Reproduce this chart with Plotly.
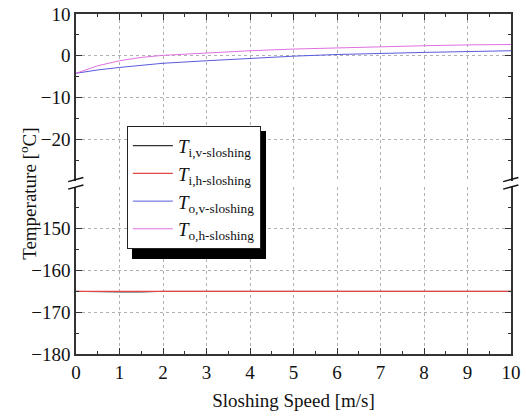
import plotly.graph_objects as go

# ---- data ----
speed = [0, 0.5, 1, 1.5, 2, 3, 4, 5, 6, 7, 8, 9, 10]
t_iv = [-165.0, -165.12, -165.12, -165.12, -165.0, -165.0, -165.0, -165.0, -165.0, -165.0, -165.0, -165.0, -165.0]
t_ih = [-165.0, -165.0, -165.0, -165.0, -165.0, -165.0, -165.0, -165.0, -165.0, -165.0, -165.0, -165.0, -165.0]
t_ov = [-4.2, -3.4, -2.8, -2.3, -1.8, -1.2, -0.6, -0.1, 0.3, 0.6, 0.8, 1.0, 1.2]
t_oh = [-4.2, -2.4, -1.2, -0.4, 0.1, 0.7, 1.2, 1.6, 1.9, 2.2, 2.4, 2.6, 2.7]

names = ["<i>T</i><sub>i,v-sloshing</sub>", "<i>T</i><sub>i,h-sloshing</sub>",
         "<i>T</i><sub>o,v-sloshing</sub>", "<i>T</i><sub>o,h-sloshing</sub>"]
colors = ["#000000", "#e04848", "#5a5ae0", "#e070e0"]

x_ticks = [0, 1, 2, 3, 4, 5, 6, 7, 8, 9, 10]
top_ticks = [-20, -10, 0, 10]
top_minor = [-25, -15, -5, 5]
bot_ticks = [-180, -170, -160, -150]
bot_minor = [-175, -165, -155, -145]

FONT = "Liberation Serif"

fig = go.Figure()
fig.add_trace(go.Scatter(x=speed, y=t_iv, name=names[0], mode="lines",
                         line=dict(color=colors[0], width=1), xaxis="x", yaxis="y"))
fig.add_trace(go.Scatter(x=speed, y=t_ih, name=names[1], mode="lines",
                         line=dict(color=colors[1], width=1.1), xaxis="x", yaxis="y"))
fig.add_trace(go.Scatter(x=speed, y=t_ov, name=names[2], mode="lines",
                         line=dict(color=colors[2], width=1), xaxis="x2", yaxis="y2"))
fig.add_trace(go.Scatter(x=speed, y=t_oh, name=names[3], mode="lines",
                         line=dict(color=colors[3], width=1), xaxis="x2", yaxis="y2"))

axcol = "#333333"
grid = dict(showgrid=True, gridcolor="#b0b0b0", griddash="dot", gridwidth=1)
common_x = dict(range=[0, 10], tickvals=x_ticks, ticks="inside", ticklen=6, tickwidth=1.2,
                tickcolor=axcol, showline=True, linecolor=axcol, linewidth=1.5, automargin=False,
                minor=dict(ticks="inside", ticklen=3, dtick=0.5, tick0=0, tickcolor=axcol, showgrid=False),
                zeroline=False, **grid)
common_y = dict(ticks="inside", ticklen=6, tickwidth=1.2, tickcolor=axcol, automargin=False,
                showline=True, linecolor=axcol, linewidth=1.5, mirror="ticks",
                zeroline=False, **grid)

fig.update_layout(
    width=526, height=417,
    margin=dict(l=76, r=15, t=14, b=63),
    paper_bgcolor="white", plot_bgcolor="white",
    font=dict(family=FONT, size=19, color="#111111"),
    showlegend=True,
    xaxis=dict(anchor="y", side="bottom", showticklabels=True,
               title=dict(text="Sloshing Speed [m/s]", font=dict(size=19), standoff=12),
               **common_x),
    xaxis2=dict(anchor="y2", side="top", showticklabels=False, matches="x", **common_x),
    yaxis=dict(domain=[0, 0.491], range=[-180, -140], tickvals=bot_ticks,
               minor=dict(ticks="inside", ticklen=3, tickvals=bot_minor, tickcolor=axcol, showgrid=False),
               **common_y),
    yaxis2=dict(domain=[0.5088, 1], range=[-30, 10], tickvals=top_ticks, anchor="x2",
                minor=dict(ticks="inside", ticklen=3, tickvals=top_minor, tickcolor=axcol, showgrid=False),
                **common_y),
    legend=dict(x=0.117, y=0.671, xanchor="left", yanchor="top",
                bgcolor="white", bordercolor="#222222", borderwidth=1,
                font=dict(family=FONT, size=19, color="#111111"),
                tracegroupgap=0, itemwidth=40),
)

# legend shadow (sits beneath the legend box, offset right/down)
fig.add_shape(type="rect", xref="paper", yref="paper", x0=0.1287, x1=0.4368, y0=0.2794, y1=0.6559,
              fillcolor="black", line=dict(width=0), layer="above")

# y-axis title
fig.add_annotation(text="Temperature [<sup>o</sup>C]", xref="paper", yref="paper",
                   x=-0.1425, y=0.471, textangle=-90, showarrow=False,
                   font=dict(family=FONT, size=19, color="#111111"))

# break marks
for xp in [0.0, 1.0]:
    for dy in [0.0, -0.022]:
        fig.add_shape(type="line", xref="paper", yref="paper",
                      x0=xp - 0.018, x1=xp + 0.017,
                      y0=0.507 + dy, y1=0.519 + dy,
                      line=dict(color="#111111", width=1.5))

fig.write_html("out.html", config={"displayModeBar": False},
               post_script="document.body.style.margin='0';document.body.style.overflow='hidden';")
